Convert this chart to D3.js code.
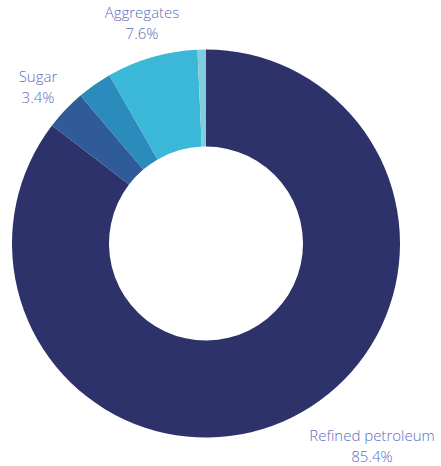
<!DOCTYPE html>
<html>
<head>
<meta charset="utf-8">
<script src="https://cdn.jsdelivr.net/npm/d3@7"></script>
<style>
  body { margin: 0; background: #fff; }
  .slice-label { font-family: "Open Sans", sans-serif; font-size: 15px; font-weight: 300; fill: #5a6ec0; text-anchor: middle; }
</style>
</head>
<body>
<div id="chart"></div>
<script>
// data, clockwise from 12 o'clock
const categories = ['Refined petroleum', 'Sugar', 'Other 1', 'Aggregates', 'Other 2'];
const shares = [85.4, 3.4, 2.9, 7.6, 0.7];
const colors = ['#2e326a', '#2f5c99', '#2b8bbd', '#3bb7d7', '#7ecfdb'];
// only these get a label
const labelled = ['Refined petroleum', 'Sugar', 'Aggregates'];

let width = 441,
    height = 466,
    cx = 206,
    cy = 243.5,
    outerR = 194,
    innerR = 97;

let svg = d3.select('#chart')
    .append('svg')
    .attr('width', width)
    .attr('height', height);

let data = categories.map((c, i) => ({name: c, value: shares[i], color: colors[i]}));

let pie = d3.pie()
    .sort(null)
    .value(d => d.value);

let arc = d3.arc()
    .innerRadius(innerR)
    .outerRadius(outerR);

let g = svg.append('g')
    .attr('transform', `translate(${cx},${cy})`);

g.selectAll('path')
    .data(pie(data)).enter()
    .append('path')
    .attr('d', arc)
    .attr('fill', d => d.data.color);

// baseline of the first label line
let labelPos = {
    'Refined petroleum': [372, 441],
    'Sugar': [38, 82],
    'Aggregates': [142, 18]
};

labelled.forEach(name => {
    let d = data.find(e => e.name === name),
        [x, y] = labelPos[name],
        t = svg.append('text')
            .classed('slice-label', true)
            .attr('x', x)
            .attr('y', y);
    t.append('tspan').attr('x', x).attr('dy', 0).text(d.name);
    t.append('tspan').attr('x', x).attr('dy', 21).text(d.value.toFixed(1) + '%');
});
</script>
</body>
</html>
